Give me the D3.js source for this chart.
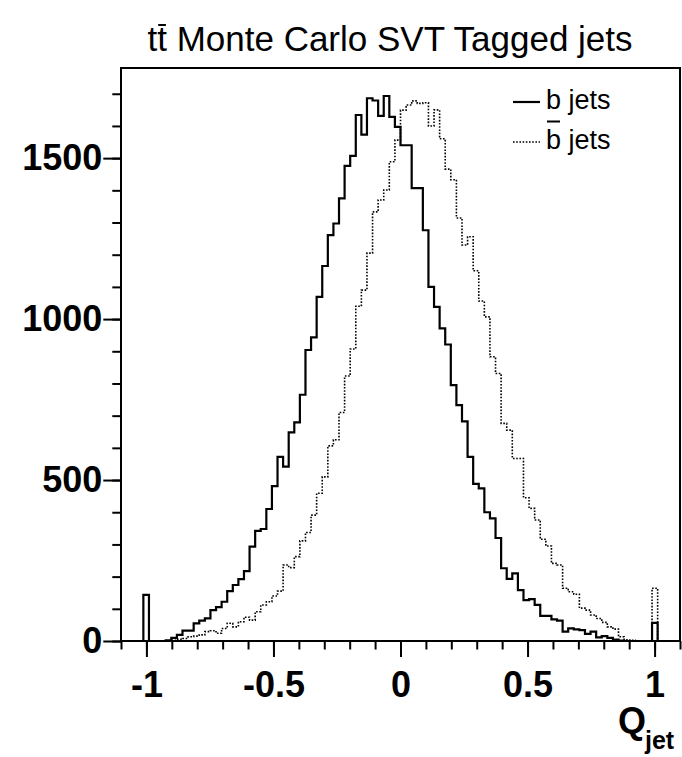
<!DOCTYPE html>
<html>
<head>
<meta charset="utf-8">
<script src="https://cdn.jsdelivr.net/npm/d3@7"></script>
<style>
body { margin: 0; background: #fff; }
text { font-family: "Liberation Sans", Arial, Helvetica, sans-serif; fill: #000; }
</style>
</head>
<body>
<div id="chart"></div>
<script>
// histogram binning: 100 bins from -1.1 to 1.1
var binLow = -1.1, binWidth = 0.022;

// bin contents
var bJets = [
  0, 0, 0, 0, 143, 0, 0, 0, 2, 10,
  19, 32, 32, 55, 63, 70, 96, 105, 122, 155,
  174, 192, 217, 293, 342, 348, 410, 481, 572, 542,
  648, 679, 765, 904, 943, 1069, 1165, 1261, 1297, 1375,
  1476, 1507, 1634, 1573, 1686, 1679, 1631, 1693, 1628, 1597,
  1540, 1540, 1407, 1407, 1276, 1100, 1038, 971, 921, 795,
  733, 682, 572, 488, 474, 400, 381, 320, 226, 193,
  210, 158, 127, 130, 112, 78, 78, 67, 63, 29,
  39, 36, 34, 22, 29, 11, 15, 10, 4, 1,
  0, 0, 0, 0, 0, 56, 0, 0, 0, 0
];
var bbarJets = [
  0, 0, 0, 0, 0, 0, 0, 0, 1, 2,
  5, 8, 13, 15, 19, 29, 32, 24, 39, 55,
  44, 60, 74, 65, 91, 112, 122, 140, 155, 236,
  228, 262, 311, 337, 391, 459, 510, 606, 625, 710,
  823, 907, 1040, 1090, 1205, 1333, 1370, 1401, 1489, 1556,
  1649, 1665, 1678, 1670, 1672, 1600, 1650, 1560, 1466, 1433,
  1314, 1230, 1256, 1150, 1056, 1007, 883, 831, 676, 655,
  567, 567, 445, 412, 376, 316, 295, 241, 236, 164,
  153, 145, 102, 96, 81, 70, 58, 44, 37, 13,
  4, 2, 0, 0, 0, 164, 0, 0, 0, 0
];

var xMajor = [-1, -0.5, 0, 0.5, 1];
var xLabels = ["-1", "-0.5", "0", "0.5", "1"];
var yMajor = [0, 500, 1000, 1500];
var yLabels = ["0", "500", "1000", "1500"];

var margin = {top: 68, right: 2, bottom: 116, left: 121},
    width = 682 - margin.left - margin.right,
    height = 757 - margin.top - margin.bottom;

var svg = d3.select("#chart")
    .append("svg")
    .attr("width", 682)
    .attr("height", 757);

var g = svg.append("g")
    .attr("transform", "translate(" + margin.left + "," + margin.top + ")");

var x = d3.scaleLinear()
    .domain([-1.1, 1.1])
    .range([0, width]);

var y = d3.scaleLinear()
    .domain([0, 1780])
    .range([height, 0]);

// minor ticks
var xMinor = d3.range(-11, 12).map(function(d){ return d / 10; });
var yMinor = d3.range(0, 1800, 100);

g.append("g")
    .attr("class", "axis")
    .attr("transform", "translate(0," + height + ")")
    .call(d3.axisBottom(x).tickValues(xMinor).tickSize(8.5).tickFormat(""));

g.append("g")
    .attr("class", "axis")
    .attr("transform", "translate(0," + height + ")")
    .call(d3.axisBottom(x).tickValues(xMajor).tickSize(16).tickPadding(14)
      .tickFormat(function(d, i){ return xLabels[i]; }));

g.append("g")
    .attr("class", "axis")
    .call(d3.axisLeft(y).tickValues(yMinor).tickSize(8.7).tickFormat(""));

g.append("g")
    .attr("class", "axis")
    .call(d3.axisLeft(y).tickValues(yMajor).tickSize(17.7).tickPadding(1)
      .tickFormat(function(d, i){ return yLabels[i]; }));

g.selectAll(".axis .domain").remove();
g.selectAll(".axis line").attr("stroke", "#000").attr("stroke-width", 2);
g.selectAll(".axis text")
    .style("font-size", "36px")
    .style("font-weight", "bold")
    .attr("fill", "#000");

// frame
g.append("rect")
    .attr("x", 0)
    .attr("y", 0)
    .attr("width", width)
    .attr("height", height)
    .attr("fill", "none")
    .attr("stroke", "#000")
    .attr("stroke-width", 2);

// histogram outlines
function stepPoints(vals) {
  var pts = vals.map(function(v, i){ return [binLow + i * binWidth, v]; });
  pts.push([binLow + vals.length * binWidth, vals[vals.length - 1]]);
  return pts;
}

var line = d3.line()
    .x(function(d){ return x(d[0]); })
    .y(function(d){ return y(d[1]); })
    .curve(d3.curveStepAfter);

g.append("path")
    .datum(stepPoints(bbarJets))
    .attr("d", line)
    .attr("fill", "none")
    .attr("stroke", "#000")
    .attr("stroke-width", 1.6)
    .attr("stroke-dasharray", "1.6,1.6");

g.append("path")
    .datum(stepPoints(bJets))
    .attr("d", line)
    .attr("fill", "none")
    .attr("stroke", "#000")
    .attr("stroke-width", 2.2);

// bar over one character of a text element
function overbar(textSel, charIndex, yPos, w) {
  var node = textSel.node();
  var ext = node.getExtentOfChar(charIndex);
  svg.append("line")
      .attr("x1", ext.x + 1).attr("x2", ext.x + ext.width - 1)
      .attr("y1", yPos).attr("y2", yPos)
      .attr("stroke", "#000").attr("stroke-width", w);
}

// title
var title = svg.append("text")
    .attr("x", 390)
    .attr("y", 51)
    .attr("text-anchor", "middle")
    .style("font-size", "35px")
    .text("tt Monte Carlo SVT Tagged jets");
overbar(title, 1, 25, 2);

// legend
svg.append("line")
    .attr("x1", 513).attr("x2", 540)
    .attr("y1", 102).attr("y2", 102)
    .attr("stroke", "#000").attr("stroke-width", 2.2);
svg.append("text")
    .attr("x", 546).attr("y", 109)
    .style("font-size", "27px")
    .text("b jets");

svg.append("line")
    .attr("x1", 513).attr("x2", 540)
    .attr("y1", 142).attr("y2", 142)
    .attr("stroke", "#000").attr("stroke-width", 1.6)
    .attr("stroke-dasharray", "1.6,1.6");
var lg2 = svg.append("text")
    .attr("x", 546).attr("y", 149)
    .style("font-size", "27px")
    .text("b jets");
overbar(lg2, 0, 121.5, 2);

// x axis title
var xt = svg.append("text")
    .attr("x", 618).attr("y", 733)
    .style("font-weight", "bold")
    .style("font-size", "36px");
xt.append("tspan").text("Q");
xt.append("tspan")
    .attr("x", 645).attr("y", 749)
    .style("font-size", "25px")
    .text("jet");
</script>
</body>
</html>
